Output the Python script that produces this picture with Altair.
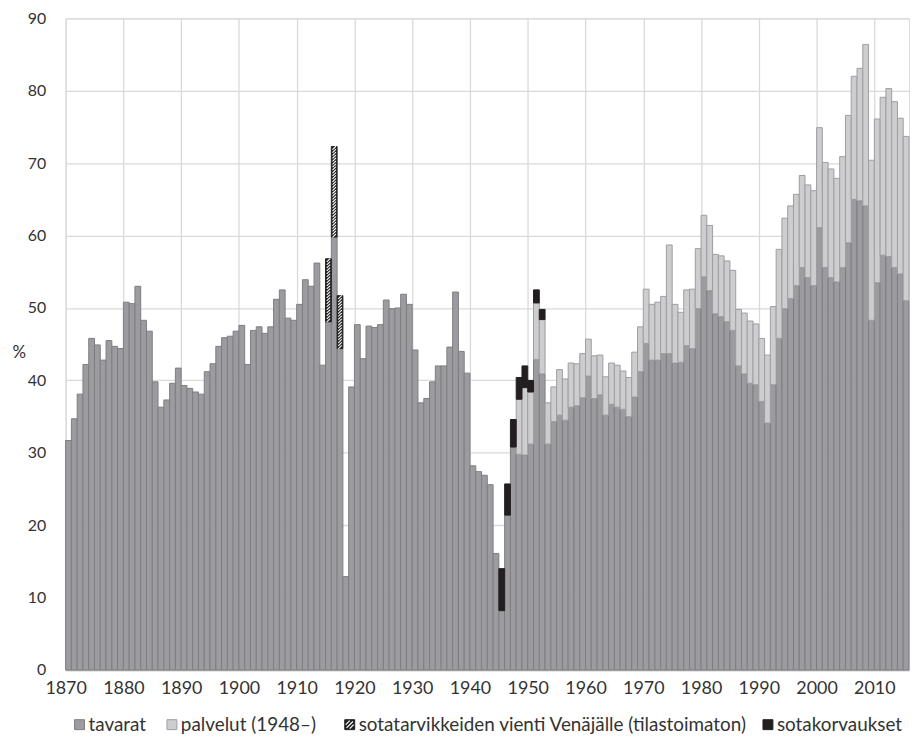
import altair as alt
import pandas as pd

# ---------------- data ----------------
years = list(range(1870, 2016))
tavarat = [
    31.7, 34.7, 38.1, 42.2, 45.8, 44.9, 42.8, 45.5, 44.7, 44.4,   # 1870s
    50.8, 50.6, 53.0, 48.3, 46.8, 39.8, 36.3, 37.3, 39.6, 41.7,   # 1880s
    39.3, 38.9, 38.4, 38.1, 41.2, 42.3, 44.7, 45.9, 46.1, 46.8,   # 1890s
    47.6, 42.2, 46.9, 47.4, 46.5, 47.4, 51.2, 52.5, 48.6, 48.3,   # 1900s
    50.5, 53.9, 53.0, 56.2, 42.1, 48.1, 59.8, 44.4, 12.9, 39.1,   # 1910s
    47.7, 43.0, 47.5, 47.3, 47.7, 51.1, 49.9, 50.0, 51.9, 50.5,   # 1920s
    44.2, 36.9, 37.5, 39.8, 42.0, 42.0, 44.6, 52.2, 44.0, 41.0,   # 1930s
    28.2, 27.4, 26.9, 25.6, 16.1, 8.2, 21.4, 30.8, 29.8, 29.7,    # 1940s
    31.2, 42.9, 40.9, 31.2, 34.3, 35.2, 34.5, 36.3, 36.5, 37.6,   # 1950s
    40.6, 37.5, 38.0, 35.2, 36.7, 36.3, 36.0, 35.0, 37.7, 41.2,   # 1960s
    45.1, 42.8, 42.8, 43.7, 43.7, 42.4, 42.5, 44.8, 44.4, 49.9,   # 1970s
    54.3, 52.4, 49.2, 48.8, 48.1, 46.9, 42.0, 40.9, 39.6, 39.4,   # 1980s
    37.1, 34.1, 39.4, 45.8, 49.9, 51.3, 53.1, 55.6, 54.2, 53.1,   # 1990s
    61.1, 55.6, 54.2, 53.6, 55.6, 59.0, 65.0, 64.8, 64.1, 48.3,   # 2000s
    53.5, 57.3, 57.1, 55.6, 54.7, 51.0,                           # 2010s
]

palvelut_years = list(range(1948, 2016))
palvelut = [
    7.6, 9.3,
    7.2, 7.8, 7.5, 5.7, 4.8, 6.3, 5.7, 6.1, 5.8, 6.1,
    5.1, 5.9, 5.5, 5.3, 5.7, 5.8, 5.3, 5.4, 6.2, 6.2,
    7.5, 7.7, 8.0, 7.9, 15.0, 8.1, 6.9, 7.7, 8.2, 8.3,
    8.5, 9.0, 8.2, 8.4, 8.4, 8.3, 7.8, 8.4, 8.6, 8.4,
    8.7, 9.4, 10.8, 12.3, 12.5, 12.8, 12.6, 12.7, 12.8, 13.1,
    13.8, 14.5, 15.0, 14.3, 15.3, 17.6, 17.0, 18.3, 22.3, 22.1,
    22.6, 21.8, 23.2, 22.9, 21.5, 22.7,
]

sota_years = [1915, 1916, 1917]
sota = [8.7, 12.5, 7.3]

korv_years = [1945, 1946, 1947, 1948, 1949, 1950, 1951, 1952]
korv = [5.8, 4.3, 3.8, 3.0, 3.0, 1.6, 1.8, 1.4]

x_ticks = list(range(1870, 2011, 10))
y_ticks = list(range(0, 91, 10))

series = ["tavarat", "palvelut", "sota", "korv"]
legend_labels = [
    "tavarat",
    "palvelut (1948–)",
    "sotatarvikkeiden vienti Venäjälle (tilastoimaton)",
    "sotakorvaukset",
]

# ---------------- styling ----------------
FILL = ["#9c9ca0", "#cdcdcf", "#231f20", "#231f20"]
STROKE = ["#7e7e82", "#9e9ea2", "#231f20", "#231f20"]
FONT = "Lato"
W, H = 849, 656

# ---------------- build tables ----------------
t = dict(zip(years, tavarat))
p = dict(zip(palvelut_years, palvelut))
rows = []
for yr in years:
    rows.append(dict(year=yr, year2=yr + 1, lo=0.0, hi=t[yr], s="tavarat"))
for yr, v in zip(palvelut_years, palvelut):
    rows.append(dict(year=yr, year2=yr + 1, lo=t[yr], hi=t[yr] + v, s="palvelut"))
for yr, v in zip(sota_years, sota):
    rows.append(dict(year=yr, year2=yr + 1, lo=t[yr], hi=t[yr] + v, s="sota"))
for yr, v in zip(korv_years, korv):
    base = t[yr] + p.get(yr, 0.0)
    rows.append(dict(year=yr, year2=yr + 1, lo=base, hi=base + v, s="korv"))
df = pd.DataFrame(rows)

hatch_rows = []
for yr, v in zip(sota_years, sota):
    lo = t[yr]
    n = max(int(v / 0.4), 1)
    for k in range(n):
        hatch_rows.append(dict(xc=yr + 0.5, yc=lo + (k + 0.5) * v / n))
hdf = pd.DataFrame(hatch_rows)

xscale = alt.Scale(domain=[1870, 2016], nice=False, zero=False)
yscale = alt.Scale(domain=[0, 90], nice=False)

bars = alt.Chart(df).mark_bar(strokeWidth=1).encode(
    x=alt.X("year:Q", scale=xscale, title=None,
            axis=alt.Axis(values=x_ticks, format="d", grid=True, gridColor="#d9d9d9",
                          gridWidth=1.3, ticks=False, domainColor="#bfbfbf", domainWidth=1.5,
                          labelFont=FONT, labelFontSize=18, labelColor="#333333",
                          labelPadding=10, labelFlush=False)),
    x2="year2:Q",
    y=alt.Y("lo:Q", scale=yscale, title="%",
            axis=alt.Axis(values=y_ticks, grid=True, gridColor="#d9d9d9", gridWidth=1.3,
                          ticks=False, domain=False, labelFont=FONT, labelFontSize=16,
                          labelColor="#333333", labelPadding=20,
                          titleAngle=0, titleX=-54, titleY=336, titleAlign="left",
                          titleBaseline="middle", titleFont=FONT, titleFontSize=17,
                          titleFontWeight="normal", titleColor="#333333")),
    y2="hi:Q",
    fill=alt.Fill("s:N", scale=alt.Scale(domain=series, range=FILL), legend=None),
    stroke=alt.Stroke("s:N", scale=alt.Scale(domain=series, range=STROKE), legend=None),
)

hatch = alt.Chart(hdf).mark_point(
    shape="M-1,1L1,-1", filled=False, stroke="white", strokeWidth=1.1, size=12, opacity=1
).encode(
    x=alt.X("xc:Q", scale=xscale),
    y=alt.Y("yc:Q", scale=yscale),
)

# ---------------- manual legend ----------------
LEG_Y = 711
sq_x = [14, 107, 286, 707]
tx_x = [23, 116, 295, 716]
one = pd.DataFrame({"a": [0]})
legend_layers = []
for i in range(4):
    legend_layers.append(
        alt.Chart(one).mark_point(shape="square", filled=True, size=100, fill=FILL[i],
                                  stroke=STROKE[i] if i < 2 else "#231f20", strokeWidth=1,
                                  opacity=1)
        .encode(x=alt.value(sq_x[i]), y=alt.value(LEG_Y))
    )
    legend_layers.append(
        alt.Chart(one).mark_text(align="left", baseline="middle", font=FONT, fontSize=19,
                                 color="#333333")
        .encode(x=alt.value(tx_x[i]), y=alt.value(LEG_Y), text=alt.value(legend_labels[i]))
    )
legend_layers.append(
    alt.Chart(one).mark_point(shape="M-1,0L0,-1M-0.8,0.8L0.8,-0.8M0,1L1,0", filled=False,
                              stroke="white", strokeWidth=1.2, size=64, opacity=1)
    .encode(x=alt.value(sq_x[2]), y=alt.value(LEG_Y))
)

chart = alt.layer(bars, hatch, *legend_layers).properties(
    width=W, height=H,
    autosize=alt.AutoSizeParams(type="none"),
    padding={"left": 58, "top": 8, "right": 1, "bottom": 66},
).configure_view(stroke=None).configure(background="white")

chart.save("out.html", embed_options={"renderer": "svg", "actions": False})
